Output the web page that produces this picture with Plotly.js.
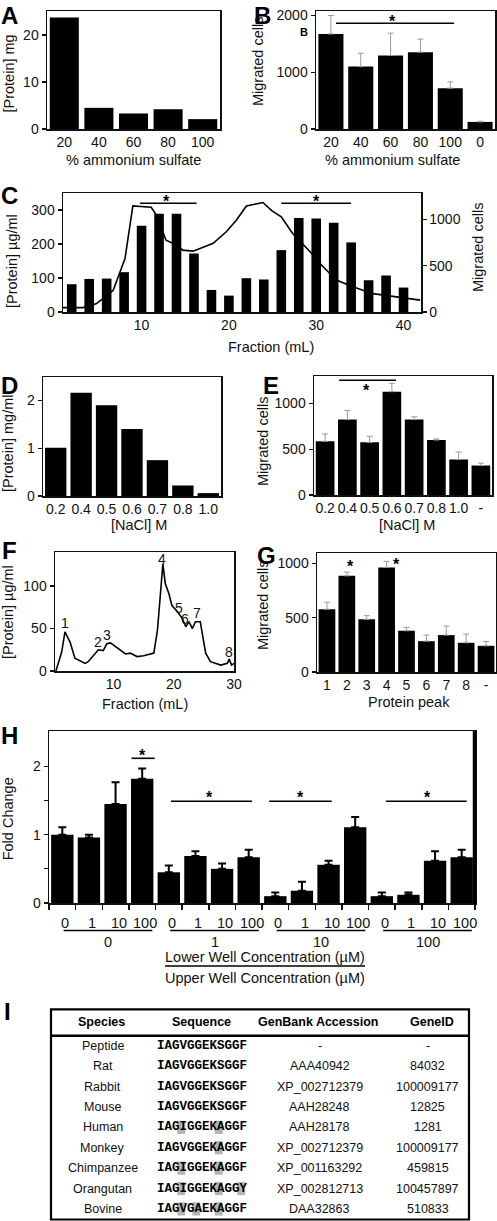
<!DOCTYPE html>
<html><head><meta charset="utf-8">
<script src="https://cdn.plot.ly/plotly-3.0.1.min.js"></script>
<style>html,body{margin:0;padding:0;background:#fff}#chart{width:497px;height:1221px}</style>
</head><body><div id="chart"></div>
<script>
// ---------- DATA ----------
const catA = ['20','40','60','80','100'];
const protA = [23.7, 4.5, 3.3, 4.2, 2.1];

const catB = ['20','40','60','80','100','0'];
const migB = [1675, 1100, 1295, 1355, 720, 125];
const errB = [325, 235, 395, 230, 110, 10];

const fracC = [2,4,6,8,10,12,14,16,18,20,22,24,26,28,30,32,34,36,38,40];
const migC = [300,357,361,430,931,1061,1061,632,238,177,365,351,668,1014,1010,963,751,343,394,264];
const lineFracC = [1,3.3,4.85,6.75,8.1,9.0,11.1,11.7,12.8,14.0,14.7,15.9,18.2,19.7,20.85,22.0,23.9,24.9,26.0,27.3,29.3,30.6,32.3,34.2,36.5,38.7,41.9];
const lineProtC = [13,13,25,64,157,312,308,285,211,197,182,179,202,236,270,312,322,298,280,231,177,138,94,74,54,46,35];

const catD = ['0.2','0.4','0.5','0.6','0.7','0.8','1.0'];
const protD = [1.01,2.16,1.90,1.40,0.75,0.22,0.06];

const catE = ['0.2','0.4','0.5','0.6','0.7','0.8','1.0','-'];
const migE = [586,824,575,1129,824,601,388,322];
const errE = [81,99,66,91,30,11,81,26];

const fracF = [0.45,1.4,1.95,2.8,3.6,4.7,5.3,5.8,6.7,7.5,8.3,8.9,9.5,10.5,11.4,12.0,12.8,13.9,15.0,15.9,16.7,17.3,17.7,18.2,18.6,19.2,19.7,20.6,21.4,22.0,22.5,23.1,23.6,24.4,25.3,26.1,27.8,28.9,29.2,29.6,30];
const protF = [0,22,46,34,15,11,9,11,18.5,25,24,32,33,28,24,20,21,17,18,20,21,48,83,126,103,91,77,70,62,52,58,50,58,58,21,11,7,9,14,7,9];
const peakLabelsF = ['1','2','3','4','5','6','7','8'];
const peakXF = [1.9,7.4,9.0,18.0,20.8,21.9,23.8,29.1];
const peakYF = [56,34,42,132,74,61,68,22];

const catG = ['1','2','3','4','5','6','7','8','-'];
const migG = [578,886,485,963,380,284,340,269,241];
const errG = [65,34,34,56,31,56,83,80,40];

const upperH = ['0','1','10','100'];
const lowerH = ['0','1','10','100'];
const foldH = [1.0,0.96,1.45,1.82, 0.45,0.69,0.50,0.67, 0.10,0.18,0.56,1.11, 0.10,0.12,0.62,0.67];
const errH = [0.11,0.04,0.32,0.15, 0.10,0.07,0.08,0.11, 0.055,0.13,0.06,0.15, 0.055,0.035,0.14,0.11];

const tableHeaders = ['Species','Sequence','GenBank Accession','GeneID'];
const species = ['Peptide','Rat','Rabbit','Mouse','Human','Monkey','Chimpanzee','Orangutan','Bovine'];
const sequences = ['IAGVGGEKSGGF','IAGVGGEKSGGF','IAGVGGEKSGGF','IAGVGGEKSGGF','IAGIGGEKAGGF','IAGVGGEKAGGF','IAGIGGEKAGGF','IAGIGGEKAGGY','IAGVGAEKAGGF'];
const accessions = ['-','AAA40942','XP_002712379','AAH28248','AAH28178','XP_002712379','XP_001163292','XP_002812713','DAA32863'];
const geneIds = ['-','84032','100009177','12825','1281','100009177','459815','100457897','510833'];
const highlights = [[],[],[],[],[3,8],[8],[3,8],[3,8,11],[3,5,8]];

// ---------- LAYOUT HELPERS ----------
const W = 497, H = 1221;
const xd = (a,b) => [a/W, b/W];
const yd = (t,b) => [1-b/H, 1-t/H];
const px = x => x/W;
const py = y => 1-y/H;
const FONT = 'Liberation Sans, Arial, Helvetica, sans-serif';
const K = '#111';

const ax = (o) => Object.assign({showline:true, linecolor:K, linewidth:1.5, mirror:true, showgrid:false, zeroline:false,
  ticks:'outside', ticklen:4, tickwidth:1.2, tickcolor:K, tickfont:{size:14, color:K, family:FONT}, fixedrange:true}, o);
const cax = (o) => ax(Object.assign({type:'category', ticks:''}, o));

const grayErr = (arr) => ({type:'data', symmetric:false, array:arr, arrayminus:arr.map(()=>0), color:'#9a9a9a', thickness:1, width:3});

const traces = [];
traces.push({type:'bar', x:catA, y:protA, xaxis:'x', yaxis:'y', marker:{color:'#000'}, showlegend:false});
traces.push({type:'bar', x:catB, y:migB, xaxis:'x2', yaxis:'y2', marker:{color:'#000'}, error_y:grayErr(errB), showlegend:false});
traces.push({type:'bar', x:fracC, y:migC, xaxis:'x3', yaxis:'y4', width:1.1, marker:{color:'#000'}, showlegend:false});
traces.push({type:'scatter', mode:'lines', x:lineFracC, y:lineProtC, xaxis:'x3', yaxis:'y3', line:{color:'#000', width:1.6}, showlegend:false});
traces.push({type:'bar', x:catD, y:protD, xaxis:'x4', yaxis:'y5', marker:{color:'#000'}, showlegend:false});
traces.push({type:'bar', x:catE, y:migE, xaxis:'x5', yaxis:'y6', marker:{color:'#000'}, error_y:grayErr(errE), showlegend:false});
traces.push({type:'scatter', mode:'lines', x:fracF, y:protF, xaxis:'x6', yaxis:'y7', line:{color:'#000', width:1.6}, showlegend:false});
traces.push({type:'bar', x:catG, y:migG, xaxis:'x7', yaxis:'y8', marker:{color:'#000'}, error_y:grayErr(errG), showlegend:false});
const hx = [];
upperH.forEach((u,g)=>lowerH.forEach((l,i)=>hx.push(g*4+i)));
traces.push({type:'bar', x:hx, y:foldH, xaxis:'x8', yaxis:'y9', marker:{color:'#000'}, showlegend:false,
  error_y:{type:'data', symmetric:false, array:errH, arrayminus:errH.map(()=>0), color:'#000', thickness:2, width:4}});

const ann = [];
const shapes = [];
const txt = (x,y,t,o) => ann.push(Object.assign({x:px(x), y:py(y), xref:'paper', yref:'paper', text:t, showarrow:false,
  xanchor:'center', yanchor:'middle', font:{size:14.5, color:K, family:FONT}}, o||{}));
const vtxt = (x,y,t) => txt(x,y,t,{textangle:-90});
const panel = (x,y,t,o) => txt(x,y,t,Object.assign({font:{size:24, color:'#000', family:FONT, weight:700}}, o||{}));
const star = (xr,yr,x,y) => ann.push({x:x, y:y, xref:xr, yref:yr, text:'*', showarrow:false, xanchor:'center', yanchor:'middle', yshift:-4,
  font:{size:16, color:'#000', family:FONT, weight:700}});
const sline = (xr,yr,x0,x1,y) => shapes.push({type:'line', xref:xr, yref:yr, x0:x0, x1:x1, y0:y, y1:y, line:{color:'#000', width:1.6}});

// panel letters
panel(9,0,'A',{yanchor:'top'}); panel(262,0,'B',{yanchor:'top'}); panel(9,195,'C'); panel(9,385,'D'); panel(271,385,'E');
panel(9,550,'F'); panel(266,555,'G'); panel(9,735,'H'); panel(7,1011,'I');
txt(304,32,'B',{font:{size:11, color:'#000', family:FONT, weight:700}});

// axis titles
vtxt(8.5,74,'[Protein] mg'); txt(133,160,'% ammonium sulfate');
vtxt(258,62,'Migrated cells'); txt(392,160,'% ammonium sulfate');
vtxt(12,261,'[Protein] µg/ml'); vtxt(478,248,'Migrated cells'); txt(271,347,'Fraction (mL)');
vtxt(8,443,'[Protein] mg/ml'); txt(139,525,'[NaCl] M');
vtxt(263,442,'Migrated cells'); txt(407,525,'[NaCl] M');
vtxt(8,612,'[Protein] µg/ml'); txt(145,704,'Fraction (mL)');
vtxt(263,606,'Migrated cells'); txt(409,702,'Protein peak');
vtxt(8.3,819,'Fold Change');

// significance
sline('x2','y2',0.17,4.13,1864); star('x2','y2',2.08,1958);
sline('x3','y3',9.8,16.3,320); sline('x3','y3',26.0,34.0,320); star('x3','y3',12.85,338); star('x3','y3',30.0,338);
sline('x5','y6',0.63,3.18,1253); star('x5','y6',1.86,1184);
star('x7','y8',1.2,1004); star('x7','y8',3.49,1028);
sline('x8','y9',2.6,3.47,2.12); star('x8','y9',3.03,2.22);
[[4.08,7.13,5.54],[7.77,10.12,8.95],[12.15,15.19,13.73]].forEach(s=>{ sline('x8','y9',s[0],s[1],1.49); star('x8','y9',s[2],1.60); });

// F peak labels
peakLabelsF.forEach((t,i)=>ann.push({x:peakXF[i], y:peakYF[i], xref:'x6', yref:'y7', text:t, showarrow:false, xanchor:'center', yanchor:'middle',
  font:{size:14, color:K, family:FONT}}));

// H x labels
upperH.forEach((u,g)=>{
  lowerH.forEach((l,i)=>ann.push({x:g*4+i, y:py(922.7), xref:'x8', yref:'paper', text:l, showarrow:false, xanchor:'center', yanchor:'middle', xshift:3,
    font:{size:14.5, color:K, family:FONT}}));
  shapes.push({type:'line', xref:'x8', yref:'paper', x0:g*4+0.05, x1:g*4+3.38, y0:py(930.5), y1:py(930.5), line:{color:'#000', width:1.5}});
  ann.push({x:g*4+1.72, y:py(942), xref:'x8', yref:'paper', text:u, showarrow:false, xanchor:'center', yanchor:'middle',
    font:{size:14.5, color:K, family:FONT}});
});
txt(265,957.3,'Lower Well Concentration (µM)');
shapes.push({type:'line', xref:'paper', yref:'paper', x0:px(165), x1:px(365), y0:py(966), y1:py(966), line:{color:'#000', width:1.5}});
txt(265,977.5,'Upper Well Concentration (µM)');
// H thick right frame
shapes.push({type:'line', xref:'paper', yref:'paper', x0:px(474.5), x1:px(474.5), y0:py(731), y1:py(904), line:{color:'#000', width:3.5}});

// ---------- TABLE (panel I) ----------
const tL = 51, tR = 469, tT = 1009.3, tB = 1219.5;
shapes.push({type:'rect', xref:'paper', yref:'paper', x0:px(tL), x1:px(tR), y0:py(tB), y1:py(tT), line:{color:'#000', width:2.2}});
shapes.push({type:'line', xref:'paper', yref:'paper', x0:px(tL), x1:px(tR), y0:py(1035.7), y1:py(1035.7), line:{color:'#000', width:2.5}});
const colX = [101.7, 201.7, 318.3, 431.7];
tableHeaders.forEach((h,i)=>txt(colX[i],1022.3,h,{font:{size:12.5, color:'#000', family:FONT, weight:700}}));
const rowY0 = 1045.7, rowStep = 20.4, seqX = 155, chW = 7.5;
species.forEach((s,r)=>{
  const y = rowY0 + r*rowStep;
  highlights[r].forEach(ci=>shapes.push({type:'rect', xref:'paper', yref:'paper', layer:'below',
    x0:px(seqX+ci*chW-0.2), x1:px(seqX+(ci+1)*chW+0.2), y0:py(y+6.6), y1:py(y-6.6), fillcolor:'#b4b4b4', line:{width:0}}));
  txt(102.5,y,s,{font:{size:12.5, color:K, family:FONT}});
  txt(seqX,y,sequences[r],{xanchor:'left', font:{size:12.5, color:'#000', family:'Liberation Mono, Courier New, monospace', weight:700}});
  txt(319.5,y,accessions[r],{font:{size:12.5, color:K, family:FONT}});
  txt(427.5,y,geneIds[r],{font:{size:12.5, color:K, family:FONT}});
});

const layout = {
  width:W, height:H, margin:{l:0,r:0,t:0,b:0}, paper_bgcolor:'#fff', plot_bgcolor:'rgba(0,0,0,0)',
  font:{family:FONT, color:K, size:14}, showlegend:false, bargap:0.16,
  xaxis: cax({domain:xd(47,220), anchor:'y'}),
  yaxis: ax({domain:yd(11,129), anchor:'x', range:[0,25.1], tickvals:[0,10,20]}),
  xaxis2: cax({domain:xd(316,495), anchor:'y2'}),
  yaxis2: ax({domain:yd(11,129), anchor:'x2', range:[0,2080], tickvals:[0,1000,2000]}),
  xaxis3: ax({domain:xd(63,421), anchor:'y3', range:[1,42], tickvals:[10,20,30,40], ticks:''}),
  yaxis3: ax({domain:yd(193,312), anchor:'x3', range:[0,350], tickvals:[0,100,200,300], mirror:false}),
  yaxis4: ax({domain:yd(193,312), anchor:'x3', overlaying:'y3', side:'right', range:[0,1285], tickvals:[0,500,1000], mirror:false}),
  xaxis4: cax({domain:xd(43,221), anchor:'y5'}),
  yaxis5: ax({domain:yd(377,496), anchor:'x4', range:[0,2.49], tickvals:[0,1,2]}),
  xaxis5: cax({domain:xd(314,492), anchor:'y6'}),
  yaxis6: ax({domain:yd(376,495), anchor:'x5', range:[0,1300], tickvals:[0,500,1000]}),
  xaxis6: ax({domain:xd(55,234), anchor:'y7', range:[0.3,30], tickvals:[10,20,30], ticks:''}),
  yaxis7: ax({domain:yd(552,671), anchor:'x6', range:[0,140], tickvals:[0,50,100]}),
  xaxis7: cax({domain:xd(317,496), anchor:'y8'}),
  yaxis8: ax({domain:yd(553,672), anchor:'x7', range:[0,1096], tickvals:[0,500,1000]}),
  xaxis8: ax({domain:xd(49,475), anchor:'y9', range:[-0.5,15.5], tickvals:hx.map(v=>v-0.5).concat([15.5]), showticklabels:false, ticklen:5, tickwidth:1.5}),
  yaxis9: ax({domain:yd(731,903), anchor:'x8', range:[0,2.52], tickvals:[0,0.5,1,1.5,2], ticktext:['0','','1','','2']}),
  annotations: ann, shapes: shapes
};
Plotly.newPlot('chart', traces, layout, {staticPlot:true, displayModeBar:false});
</script></body></html>
